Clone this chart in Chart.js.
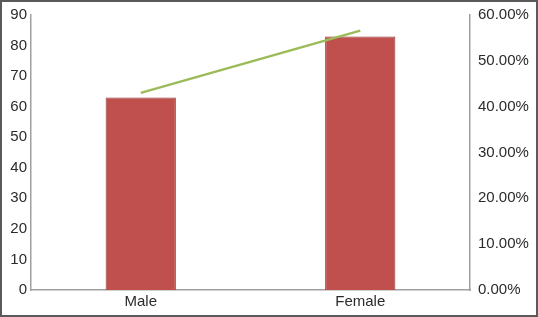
<!DOCTYPE html>
<html>
<head>
<meta charset="utf-8">
<script src="https://cdn.jsdelivr.net/npm/chart.js@4/dist/chart.umd.min.js"></script>
<style>
  body { margin: 0; background: #fff; }
  #wrap { width: 538px; height: 317px; box-sizing: border-box; border: 2px solid #5a5a5a; }
</style>
</head>
<body>
<div id="wrap"><canvas id="chart" width="534" height="313"></canvas></div>
<script>
const categories = ["Male", "Female"];
const counts = [63, 83];
const percents = [43.0, 56.6];

Chart.defaults.font.family = "'Liberation Sans', Arial, sans-serif";
Chart.defaults.font.size = 15;
Chart.defaults.color = "#2b2b2b";

new Chart(document.getElementById('chart'), {
    data: {
        labels: categories,
        datasets: [
            {
                type: 'line',
                data: percents,
                yAxisID: 'y2',
                borderColor: '#9bbb59',
                borderWidth: 2.5,
                pointRadius: 0,
                order: 0
            },
            {
                type: 'bar',
                data: counts,
                yAxisID: 'y',
                backgroundColor: '#c0504d',
                borderColor: '#8c3836',
                borderWidth: 1,
                categoryPercentage: 1,
                barPercentage: 0.32,
                order: 1
            }
        ]
    },
    options: {
        responsive: false,
        animation: false,
        layout: { padding: { top: 0, left: 0, right: 0, bottom: 0 } },
        plugins: {
            legend: { display: false },
            tooltip: { enabled: false }
        },
        scales: {
            x: {
                grid: { display: false, drawTicks: false },
                border: { color: '#a0a0a0', width: 1.5 },
                ticks: { padding: 3 },
                afterFit: s => { s.height = 25; }
            },
            y: {
                position: 'left',
                min: 0, max: 90,
                ticks: { stepSize: 10, padding: 4, font: { lineHeight: 1.0 } },
                grid: { display: false, drawTicks: false },
                border: { color: '#a0a0a0', width: 1.5 },
                afterFit: s => { s.width = 29; s.paddingTop = 13; }
            },
            y2: {
                position: 'right',
                min: 0, max: 60,
                ticks: { stepSize: 10, padding: 8, font: { lineHeight: 1.0 }, callback: v => v.toFixed(2) + '%' },
                grid: { display: false, drawTicks: false },
                border: { color: '#a0a0a0', width: 1.5 },
                afterFit: s => { s.width = 66; s.paddingTop = 13; }
            }
        }
    }
});
</script>
</body>
</html>
